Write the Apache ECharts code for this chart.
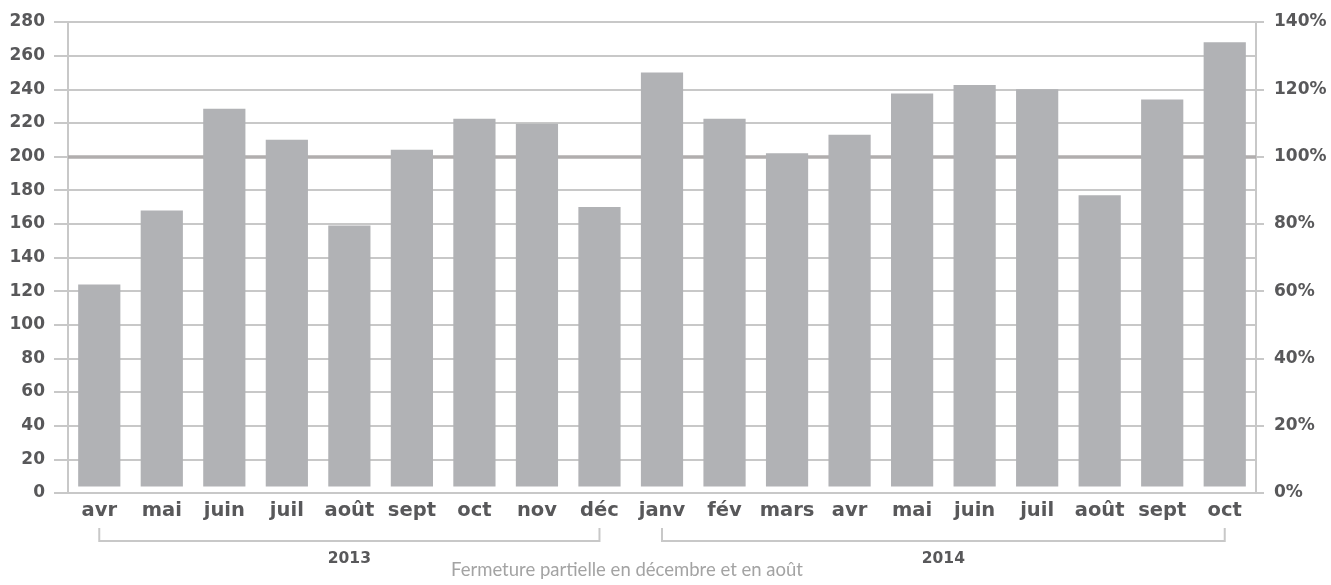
<!DOCTYPE html>
<html><head><meta charset="utf-8">
<script src="https://cdn.jsdelivr.net/npm/echarts@6/dist/echarts.min.js"></script>
<style>html,body{margin:0;padding:0;background:#fff}#c{width:1331px;height:585px}</style>
</head><body><div id="c"></div>
<script>
const categories = ['avr','mai','juin','juil','août','sept','oct','nov','déc','janv','fév','mars','avr','mai','juin','juil','août','sept','oct'];
const values = [124,168,228.5,210,159,204,222.5,219.5,170,250,222.5,202,213,237.5,242.5,240,177,234,268];
const leftTicks = {min:0, max:280, interval:20};
const rightTicks = {min:0, max:140, interval:20};
const referenceLevel = 200;
const yearLabels = ['2013','2014'];
const yearStart = [0,9];
const yearEnd = [8,18];
const note = 'Fermeture partielle en décembre et en août';

const BOLD = 'DejaVu Sans';
const TXT = '#58585a';
const GRID = '#c8c8c8';
const chart = echarts.init(document.getElementById('c'), null, {renderer:'canvas'});
const option = {
  animation:false,
  textStyle:{fontFamily:BOLD},
  title:{text:note, left:622, textAlign:'center', bottom:0,
    textStyle:{fontFamily:'Lato', fontWeight:'normal', fontSize:18.5, color:'#a3a3a3'}},
  grid:{left:68, right:75, top:22, bottom:92},
  xAxis:{type:'category', data:categories, boundaryGap:true,
    axisLine:{lineStyle:{color:GRID, width:2}}, axisTick:{show:false},
    axisLabel:{color:TXT, fontWeight:'bold', fontSize:19.5, fontFamily:BOLD, margin:8, interval:0}},
  yAxis:[
    {type:'value', min:leftTicks.min, max:leftTicks.max, interval:leftTicks.interval,
     axisLine:{show:true, lineStyle:{color:GRID, width:2}},
     axisTick:{show:true, length:14, lineStyle:{color:GRID, width:2}},
     splitLine:{show:true, lineStyle:{color:GRID, width:2}},
     axisLabel:{color:TXT, fontWeight:'bold', fontSize:17, fontFamily:BOLD, margin:23}},
    {type:'value', position:'right', min:rightTicks.min, max:rightTicks.max, interval:rightTicks.interval,
     axisLine:{show:true, lineStyle:{color:GRID, width:2}},
     axisTick:{show:true, length:8, lineStyle:{color:GRID, width:2}},
     splitLine:{show:false},
     axisLabel:{color:TXT, fontWeight:'bold', fontSize:17, fontFamily:BOLD, margin:18, formatter:'{value}%'}}
  ],
  series:[
    {type:'line', data:[], z:1, silent:true,
     markLine:{silent:true, symbol:'none', label:{show:false},
       lineStyle:{color:'#b1aeae', width:3.5, type:'solid'}, data:[{yAxis:referenceLevel}]}},
    {type:'custom', z:5,
     data: values.map((v,i)=>[i,v]),
     encode:{x:0, y:1},
     renderItem:function(params, api){
       const top = api.coord([api.value(0), api.value(1)]);
       const base = api.coord([api.value(0), 0]);
       const w = api.size([1,0])[0]*0.675;
       const bottom = base[1]-6.5;
       return {type:'rect', shape:{x:top[0]-w/2, y:top[1], width:w, height:bottom-top[1]},
               style:{fill:'#b1b2b5'}};
     }}
  ]
};
chart.setOption(option);

const graphics = [];
for (let k=0;k<yearLabels.length;k++){
  const x1 = chart.convertToPixel({xAxisIndex:0}, yearStart[k]);
  const x2 = chart.convertToPixel({xAxisIndex:0}, yearEnd[k]);
  graphics.push({type:'polyline', silent:true,
    shape:{points:[[x1,528],[x1,541],[x2,541],[x2,528]]},
    style:{stroke:GRID, lineWidth:2, fill:null}});
  graphics.push({type:'text', silent:true, x:(x1+x2)/2, y:559,
    style:{text:yearLabels[k], fill:TXT, font:'bold 15.5px '+BOLD, textAlign:'center', textVerticalAlign:'middle'}});
}
chart.setOption({graphic:graphics});
</script></body></html>
